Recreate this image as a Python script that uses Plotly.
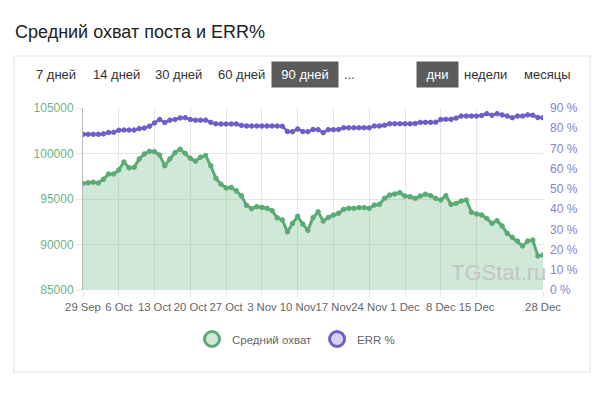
import pandas as pd
import plotly.graph_objects as go

# ---- data ----
START_DATE = "2023-09-29"
N_DAYS = 91
reach = [96700, 96780, 96850, 96760, 97160, 97750, 97750, 98190, 99070, 98430,
         98480, 99400, 99950, 100240, 100200, 99830, 98650, 99400, 100090, 100480,
         100020, 99470, 99150, 99600, 99780, 98650, 97270, 96630, 96210, 96270,
         95900, 95350, 94300, 93940, 94160, 94080, 93980, 93720, 92930, 92700,
         91380, 92330, 93100, 92240, 91560, 92950, 93600, 92580, 92980, 93240,
         93430, 93860, 93970, 93970, 94050, 94050, 93970, 94340, 94410, 95070,
         95440, 95550, 95700, 95330, 95260, 95070, 95330, 95530, 95370, 95070,
         94890, 95370, 94410, 94520, 94780, 94890, 93540, 93350, 93240, 92870,
         92330, 92620, 92030, 91230, 90790, 90380, 89840, 90380, 90490, 88740,
         88850]
err = [77.0, 77.0, 77.0, 77.0, 77.2, 77.9, 78.0, 79.0, 79.1, 79.1,
       79.1, 79.8, 80.1, 81.0, 82.6, 84.3, 82.8, 84.0, 84.3, 85.1,
       85.2, 84.3, 84.0, 84.0, 84.0, 82.9, 82.2, 82.1, 82.1, 82.1,
       82.1, 81.4, 81.1, 81.1, 81.1, 81.1, 81.1, 81.1, 81.1, 81.0,
       78.4, 78.3, 79.6, 78.4, 78.3, 79.4, 79.3, 77.8, 79.3, 79.3,
       79.4, 80.2, 80.2, 80.2, 80.2, 80.2, 80.2, 81.1, 81.1, 81.5,
       82.2, 82.2, 82.2, 82.2, 82.2, 82.3, 82.9, 82.9, 82.9, 83.0,
       84.3, 84.4, 84.4, 85.0, 86.0, 86.0, 86.0, 86.0, 86.3, 87.2,
       86.4, 87.2, 86.6, 86.0, 85.2, 86.0, 86.0, 86.6, 86.4, 85.3,
       85.2]
tick_dates = ["2023-09-29", "2023-10-06", "2023-10-13", "2023-10-20", "2023-10-27",
              "2023-11-03", "2023-11-10", "2023-11-17", "2023-11-24", "2023-12-01",
              "2023-12-08", "2023-12-15", "2023-12-28"]
tick_labels = ["29 Sep", "6 Oct", "13 Oct", "20 Oct", "27 Oct", "3 Nov", "10 Nov",
               "17 Nov", "24 Nov", "1 Dec", "8 Dec", "15 Dec", "28 Dec"]
left_ticks = [85000, 90000, 95000, 100000, 105000]
right_ticks = [0, 10, 20, 30, 40, 50, 60, 70, 80, 90]
period_buttons = ["7 дней", "14 дней", "30 дней", "60 дней", "90 дней", "..."]
scale_buttons = ["дни", "недели", "месяцы"]
series_names = ["Средний охват", "ERR %"]
title_text = "Средний охват поста и ERR%"

dates = pd.date_range(START_DATE, periods=N_DAYS, freq="D")

# ---- styling ----
GREEN = "#5dab74"
GREEN_FILL = "rgba(99,178,122,0.30)"
PURPLE = "#6c5fc9"
PURPLE_FILL = "rgba(120,105,215,0.30)"
FONT = "Liberation Sans, Arial, sans-serif"

W, H = 600, 400
L, R, T, B = 83, 57, 108, 110
PW, PH = W - L - R, H - T - B


def px(x):
    return (x - L) / PW


def py(y):
    return (H - B - y) / PH


fig = go.Figure()

fig.add_trace(go.Scatter(
    x=dates, y=reach, mode="lines+markers", name=series_names[0],
    line=dict(color=GREEN, width=3),
    marker=dict(size=4.5, color=GREEN, line=dict(color=GREEN, width=1)),
    fill="tozeroy", fillcolor=GREEN_FILL, showlegend=False, yaxis="y"))

fig.add_trace(go.Scatter(
    x=dates, y=err, mode="lines+markers", name=series_names[1],
    line=dict(color=PURPLE, width=2.5),
    marker=dict(size=4.5, color=PURPLE, line=dict(color=PURPLE, width=1)),
    showlegend=False, yaxis="y2"))

# legend-only entries
fig.add_trace(go.Scatter(
    x=[None], y=[None], mode="markers", name=series_names[0],
    marker=dict(size=15, color=GREEN_FILL, line=dict(color=GREEN, width=3)),
    showlegend=True))
fig.add_trace(go.Scatter(
    x=[None], y=[None], mode="markers", name=series_names[1],
    marker=dict(size=15, color=PURPLE_FILL, line=dict(color=PURPLE, width=3)),
    showlegend=True, yaxis="y2"))

# card border
fig.add_shape(type="rect", xref="paper", yref="paper",
              x0=px(14), x1=px(590), y0=py(372), y1=py(56),
              line=dict(color="#e4e4e4", width=1.2), fillcolor="rgba(0,0,0,0)",
              layer="below")

annotations = []
annotations.append(dict(text=title_text, xref="paper", yref="paper",
                        x=px(13), y=py(32), xanchor="left", yanchor="middle",
                        showarrow=False, font=dict(size=18, color="#222", family=FONT)))

btn_y = py(74.5)
period_x = [55.5, 116, 178, 241.5, 305, 349.5]
for lbl, cx in zip(period_buttons, period_x):
    active = lbl == "90 дней"
    a = dict(text=lbl, xref="paper", yref="paper", x=px(cx), y=btn_y,
             xanchor="center", yanchor="middle", showarrow=False,
             font=dict(size=13, color="#fff" if active else "#333", family=FONT))
    if active:
        a.update(bgcolor="#5b5b5b", width=64, height=23)
    annotations.append(a)

scale_x = [437, 485.5, 547]
for lbl, cx in zip(scale_buttons, scale_x):
    active = lbl == "дни"
    a = dict(text=lbl, xref="paper", yref="paper", x=px(cx), y=btn_y,
             xanchor="center", yanchor="middle", showarrow=False,
             font=dict(size=13, color="#fff" if active else "#333", family=FONT))
    if active:
        a.update(bgcolor="#5b5b5b", width=39, height=23)
    annotations.append(a)

annotations.append(dict(text="TGStat.ru", xref="paper", yref="paper",
                        x=px(498), y=py(272), xanchor="center", yanchor="middle",
                        showarrow=False,
                        font=dict(size=22, color="#c4c4c4", family=FONT)))

fig.update_layout(
    width=W, height=H,
    margin=dict(l=L, r=R, t=T, b=B, pad=0),
    paper_bgcolor="white", plot_bgcolor="white",
    font=dict(family=FONT, size=12, color="#666"),
    showlegend=True,
    legend=dict(orientation="h", x=px(296), y=py(339), xanchor="center",
                yanchor="middle", font=dict(size=11.5, color="#666", family=FONT),
                itemsizing="trace", bgcolor="rgba(0,0,0,0)", tracegroupgap=0),
    annotations=annotations,
    xaxis=dict(
        type="date",
        range=[dates[0], dates[-1]],
        tickvals=pd.to_datetime(tick_dates), ticktext=tick_labels,
        tickangle=0,
        showgrid=True, gridcolor="#e6e6e6", gridwidth=1,
        ticks="outside", ticklen=6, tickcolor="#e6e6e6",
        tickfont=dict(size=11.3, color="#666"),
        showline=False, zeroline=False),
    yaxis=dict(
        range=[85000, 105000], tickvals=left_ticks,
        showgrid=True, gridcolor="#e6e6e6", gridwidth=1,
        ticks="outside", ticklen=6, tickcolor="#e6e6e6",
        tickfont=dict(size=12, color="#6db585"),
        showline=True, linecolor="#b8b8b8", linewidth=1,
        zeroline=False, tickformat="d"),
    yaxis2=dict(
        range=[0, 90], tickvals=right_ticks,
        ticktext=[f"{v} %" for v in right_ticks],
        overlaying="y", side="right", showgrid=False, zeroline=False,
        ticks="", ticklabelstandoff=6,
        tickfont=dict(size=12, color="#8a80d4"),
        showline=False),
)

fig.write_html("out.html")
